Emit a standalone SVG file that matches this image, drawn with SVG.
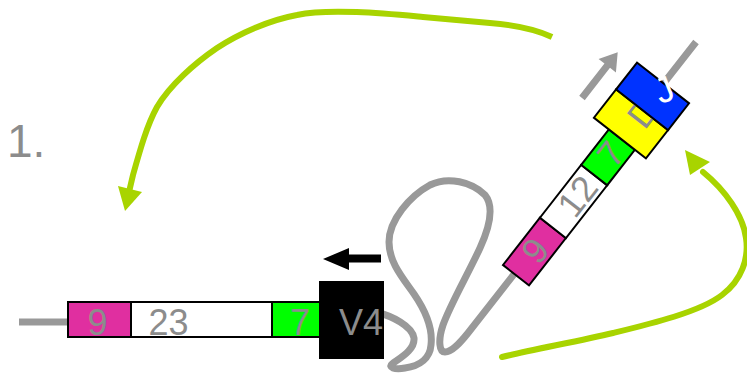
<svg xmlns="http://www.w3.org/2000/svg" width="747" height="373" viewBox="0 0 747 373">
  <style>
    .box { stroke: #000; stroke-width: 2; }
    .lbl { font-family: "Liberation Sans", Arial, sans-serif; font-size: 36px; fill: #8c8c8c; }
    .strand { fill: none; stroke: #999; stroke-width: 7; }
    .flow { fill: none; stroke: #a8d400; stroke-width: 6; }
    .flowhead { fill: #a8d400; }
  </style>

  <!-- step number -->
  <g id="step-label">
    <text x="7" y="157" class="lbl" style="font-size:46px">1.</text>
  </g>

  <!-- DNA strand and arrows -->
  <g id="connectors">
    <line x1="19" y1="322" x2="70" y2="322" class="strand"/>
    <path class="strand" d="M 376,312 C 392,316 412,326 414,338 C 415,350 400,358 392,364 C 388,367 394,370 405,368 C 420,366 430,358 431,345 C 433,328 425,310 414,294 C 402,277 389,262 389,242 C 389,220 410,196 430,185 C 448,176 472,182 485,195 C 494,206 490,226 480,248 C 468,274 450,305 443,325 C 438,340 439,352 445,352 C 452,352 460,343 468,333 L 696,42"/>

    <!-- recombination arrows -->
    <path class="flow" d="M 552,37 C 535,29 515,25 490,23 L 423,17 C 390,14 330,8 297,15 C 270,20 240,33 217,48 C 195,63 170,85 157,107 C 147,125 140,150 133,175 L 129,192"/>
    <polygon class="flowhead" points="125,211 118,186 142,192"/>
    <path class="flow" stroke-linecap="round" d="M 502,357 C 530,350 580,341 613,333 C 650,324 700,312 722,295 C 742,280 749,258 746,238 C 743,215 725,190 703,172"/>
    <polygon class="flowhead" points="685,150 690,175 710,162"/>

    <!-- transcription direction arrows -->
    <polygon fill="#000" points="323,259 349,248 349,254.5 381,254.5 381,262.5 349,262.5 349,270"/>
    <g transform="translate(582,98) rotate(-52)">
      <polygon fill="#999" points="0,-3.5 41,-3.5 41,-11 58,0 41,11 41,3.5 0,3.5"/>
    </g>
  </g>

  <!-- left segment: nonamer, 23 spacer, heptamer, V4 -->
  <g id="left-nonamer">
    <rect x="68" y="302" width="63" height="35" fill="#e02fa0" class="box"/>
    <text x="97.5" y="335" class="lbl" text-anchor="middle">9</text>
  </g>
  <g id="left-spacer">
    <rect x="131" y="302" width="141" height="35" fill="#fff" class="box"/>
    <text x="148.5" y="335" class="lbl">23</text>
  </g>
  <g id="left-heptamer">
    <rect x="272" y="302" width="48" height="35" fill="#00ff00" class="box"/>
    <text x="300" y="335" class="lbl" text-anchor="middle">7</text>
  </g>
  <g id="v4">
    <rect x="320" y="282" width="63" height="76" fill="#000" class="box"/>
    <text x="339" y="335" class="lbl">V4</text>
  </g>

  <!-- right segment: nonamer, 12 spacer, heptamer, D, J -->
  <g transform="translate(503,265) rotate(-52)">
    <g id="right-nonamer">
      <rect x="0" y="0" width="60" height="33" fill="#e02fa0" class="box"/>
      <text x="31" y="29" class="lbl" text-anchor="middle">9</text>
    </g>
    <g id="right-spacer">
      <rect x="60" y="0" width="67" height="33" fill="#fff" class="box"/>
      <text x="100" y="29" class="lbl" text-anchor="middle">12</text>
    </g>
    <g id="right-heptamer">
      <rect x="127" y="0" width="45" height="33" fill="#00ff00" class="box"/>
      <text x="154" y="29" class="lbl" text-anchor="middle">7</text>
    </g>
    <g id="d-segment">
      <rect x="172" y="-19" width="36" height="66" fill="#ffff00" class="box"/>
      <text x="193" y="29" class="lbl">D</text>
    </g>
    <g id="j-segment">
      <rect x="208" y="-19" width="34" height="66" fill="#0033ff" class="box"/>
    </g>
  </g>
  <text transform="translate(664,89) rotate(-22)" x="0" y="13" class="lbl" text-anchor="middle" style="fill:#fff">J</text>
</svg>
